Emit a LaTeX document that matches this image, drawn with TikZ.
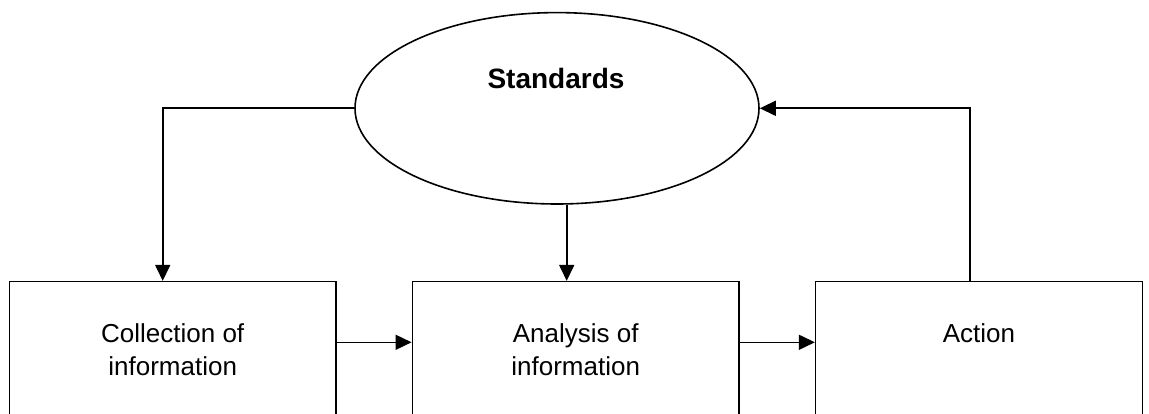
\documentclass[tikz,border=0pt]{standalone}
\usepackage{fontspec}
\setmainfont{Liberation Sans}
\usetikzlibrary{shapes.geometric,arrows.meta}

\tikzset{
  box/.style={draw,line width=1.6pt,minimum width=326.7pt,minimum height=136.6pt,align=center,inner sep=0pt},
  flow/.style={-{Triangle[length=16pt,width=15pt]},line width=1.6pt},
}

\begin{document}
\begin{tikzpicture}[x=1pt,y=-1pt,font=\fontsize{26}{33}\selectfont]
  \clip (0,0) rectangle (1149,414);

  % Standards (ellipse)
  \node[draw,ellipse,line width=1.6pt,minimum width=404pt,minimum height=191.4pt] (std) at (557,108.3) {};
  \node[font=\fontsize{28}{33}\selectfont\bfseries] (stdtext) at (556,78) {Standards};

  % three steps
  \node[box] (coll) at (172.7,350) {Collection of\\information};
  \node[box] (anal) at (575.7,350) {Analysis of\\information};
  \node[box] (act) at (979,350) {Action\\\mbox{}};

  % arrows
  \coordinate (inColl) at ([xshift=-10pt]coll.north);
  \coordinate (inAnal) at ([xshift=-9pt]anal.north);
  \coordinate (outAct) at ([xshift=-9.3pt]act.north);
  \draw[flow] (std.west) -| (inColl);
  \draw[flow] (std.south -| inAnal) -- (inAnal);
  \draw[flow] (outAct) |- (std.east);
  \draw[flow] ([yshift=7.7pt]coll.east) -- ([yshift=7.7pt]anal.west);
  \draw[flow] ([yshift=7.7pt]anal.east) -- ([yshift=7.7pt]act.west);
\end{tikzpicture}
\end{document}
